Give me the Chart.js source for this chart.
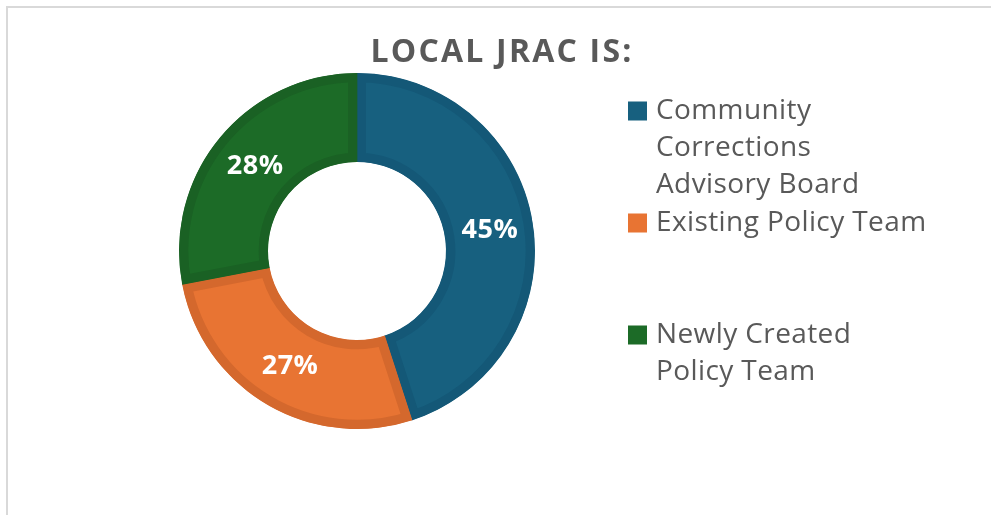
<!DOCTYPE html>
<html>
<head>
<meta charset="utf-8">
<script src="https://cdn.jsdelivr.net/npm/chart.js@4.4.0/dist/chart.umd.min.js"></script>
<style>
  html, body { margin: 0; padding: 0; background: #fff; overflow: hidden; }
  #wrap { position: relative; width: 991px; height: 515px; }
  #frame { position: absolute; left: 6px; top: 6px; width: 2000px; height: 2000px;
           border-left: 2px solid #d9d9d9; border-top: 2px solid #d9d9d9; }
  canvas { position: absolute; left: 0; top: 0; }
</style>
</head>
<body>
<div id="wrap">
  <div id="frame"></div>
  <canvas id="jrac" width="991" height="515"></canvas>
</div>
<script>
const chartTitle = 'LOCAL JRAC IS:';
const labels = [
  ['Community', 'Corrections', 'Advisory Board'],
  ['Existing Policy Team'],
  ['Newly Created', 'Policy Team'],
];
const shares = [45, 27, 28];
const fillColors   = ['#17607f', '#e87433', '#1c6b27'];
const borderColors = ['#145877', '#d4682d', '#1a6124'];

const FONT = "'Open Sans', sans-serif";
const textGrey = '#595959';

// white % labels on each slice
const sliceLabels = {
  id: 'sliceLabels',
  afterDatasetsDraw(chart) {
    const { ctx } = chart;
    const meta = chart.getDatasetMeta(0);
    ctx.save();
    ctx.fillStyle = '#ffffff';
    ctx.font = `bold 27px ${FONT}`;
    ctx.letterSpacing = '0.5px';
    ctx.textAlign = 'center';
    ctx.textBaseline = 'middle';
    meta.data.forEach((arc, i) => {
      const p = arc.tooltipPosition();
      ctx.fillText(shares[i] + '%', p.x + 1, p.y);
    });
    ctx.restore();
  },
};

// title + legend in fixed slots like the original
const sideText = {
  id: 'sideText',
  afterDraw(chart) {
    const { ctx } = chart;
    ctx.save();
    ctx.fillStyle = textGrey;
    ctx.font = `bold 32px ${FONT}`;
    ctx.letterSpacing = '2.2px';
    ctx.textAlign = 'center';
    ctx.textBaseline = 'middle';
    ctx.fillText(chartTitle, 502, 53);

    ctx.font = `28px ${FONT}`;
    ctx.letterSpacing = '0.4px';
    ctx.textAlign = 'left';
    labels.forEach((lines, i) => {
      const y0 = 111 + i * 112;
      ctx.fillStyle = fillColors[i];
      ctx.fillRect(628, y0 - 9.5, 19, 19);
      ctx.fillStyle = textGrey;
      lines.forEach((line, j) => ctx.fillText(line, 656, y0 + j * 37));
    });
    ctx.restore();
  },
};

new Chart(document.getElementById('jrac'), {
  type: 'doughnut',
  data: {
    labels,
    datasets: [{
      data: shares,
      backgroundColor: fillColors,
      borderColor:     borderColors,
      borderWidth:     9,
      borderAlign:     'inner',
      hoverBorderWidth: 9,
    }],
  },
  options: {
    responsive: false,
    animation: false,
    radius: 178,
    cutout: 89,
    layout: { padding: { left: 179, right: 456, top: 73, bottom: 86 } },
    plugins: {
      legend:  { display: false },
      title:   { display: false },
      tooltip: { enabled: false },
    },
  },
  plugins: [sliceLabels, sideText],
});
</script>
</body>
</html>
